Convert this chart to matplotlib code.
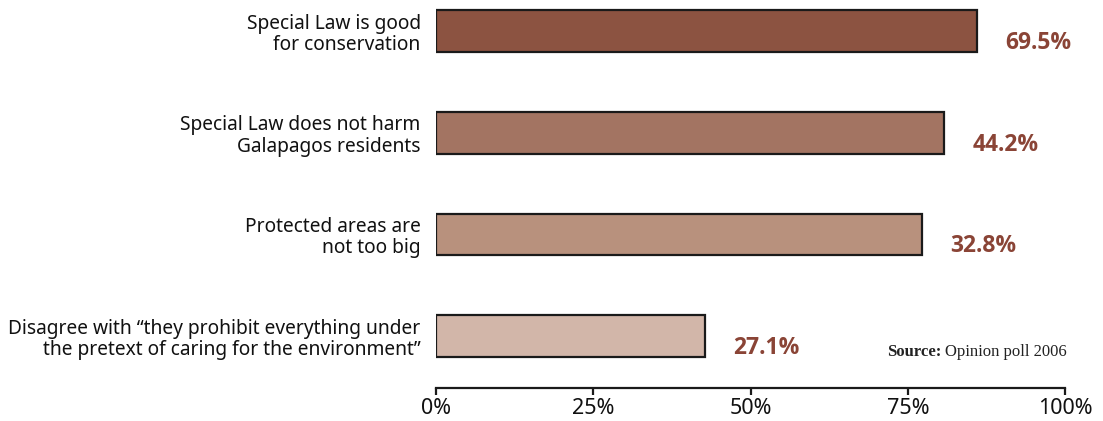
import matplotlib
matplotlib.use("Agg")
import matplotlib.pyplot as plt

categories = [
    "Special Law is good\nfor conservation",
    "Special Law does not harm\nGalapagos residents",
    "Protected areas are\nnot too big",
    "Disagree with \u201cthey prohibit everything under\nthe pretext of caring for the environment\u201d",
]
bar_lengths = [86.0, 80.8, 77.3, 42.8]          # drawn bar lengths (% of axis)
value_labels = ["69.5%", "44.2%", "32.8%", "27.1%"]
bar_colors = ["#8C5341", "#A37462", "#B8917D", "#D2B6A9"]
xticks = [0, 25, 50, 75, 100]
xtick_labels = ["0%", "25%", "50%", "75%", "100%"]

plt.rcParams['font.family'] = ['Noto Sans', 'DejaVu Sans']

fig = plt.figure(figsize=(11.03, 4.21), dpi=100)
W, H = 1103, 421
ax = fig.add_axes([436 / W, (H - 388) / H, (1065 - 436) / W, 388 / H])

ypos = list(range(len(categories)))
ax.barh(ypos, bar_lengths, height=0.41, color=bar_colors,
        edgecolor="#1a1a1a", linewidth=1.6, zorder=3)

for y, L, lab in zip(ypos, bar_lengths, value_labels):
    ax.annotate(lab, xy=(L, y), xytext=(28, -12), textcoords="offset pixels",
                ha="left", va="center", fontsize=16.5, fontweight="bold",
                family="Open Sans", color="#8A4436")

ax.set_xlim(0, 100)
ax.set_ylim(3.511, -0.305)
ax.set_yticks(ypos)
ax.set_yticklabels(categories, fontsize=13.8, color="#111111", linespacing=1.1)
ax.tick_params(axis="y", length=0, pad=11)
ax.set_xticks(xticks)
ax.set_xticklabels(xtick_labels, fontsize=15.5, color="#111111")
ax.tick_params(axis="x", direction="out", length=5, width=1.6, pad=2, color="#1a1a1a")

for s in ["top", "right", "left"]:
    ax.spines[s].set_visible(False)
ax.spines["bottom"].set_linewidth(1.6)
ax.spines["bottom"].set_color("#1a1a1a")

t1 = fig.text(887 / W, 1 - 352 / H, "Source:", family="Liberation Serif",
              fontweight="bold", fontsize=12, color="#222222", ha="left", va="center")
fig.canvas.draw()
bb = t1.get_window_extent()
fig.text((bb.x1 + 4) / W, 1 - 352 / H, "Opinion poll 2006", family="Liberation Serif",
         fontsize=12, color="#222222", ha="left", va="center")

fig.savefig("out.png", dpi=100)
